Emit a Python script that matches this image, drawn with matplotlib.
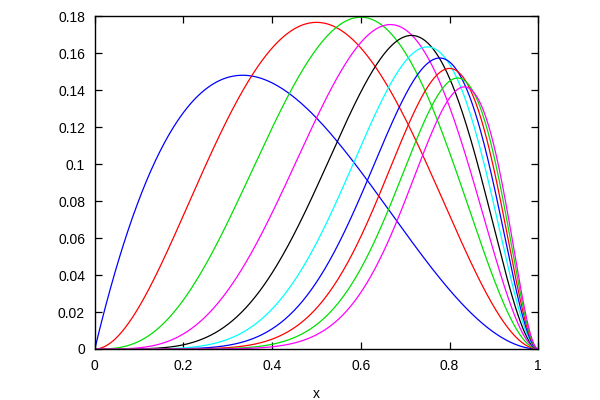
import numpy as np
import matplotlib
matplotlib.use("Agg")
import matplotlib.pyplot as plt

# curves are n^1.5 * x^n * (1-x)^2, n read from the peak positions n/(n+2)
exponents = [1, 2, 3, 4, 5, 6, 7, 8, 9, 10]
scales = [n ** 1.5 for n in exponents]
colors = ["#0000ff", "#ff0000", "#00e000", "#ff00ff", "#000000",
          "#00ffff", "#0000ff", "#ff0000", "#00e000", "#ff00ff"]
xticks = [0, 0.2, 0.4, 0.6, 0.8, 1]
yticks = [0, 0.02, 0.04, 0.06, 0.08, 0.1, 0.12, 0.14, 0.16, 0.18]

plt.rcParams['font.family'] = ['Liberation Sans', 'DejaVu Sans']

fig = plt.figure(figsize=(6, 4), dpi=100)
ax = fig.add_axes([0.158, 0.1275, 0.739, 0.8315])

x = np.linspace(0, 1, 500)
for n, c, col in zip(exponents, scales, colors):
    ax.plot(x, c * x ** n * (1 - x) ** 2, color=col, lw=0.9)

ax.set_xlim(0, 1)
ax.set_ylim(0, 0.18)
ax.set_xticks(xticks)
ax.set_xticklabels(["0", "0.2", "0.4", "0.6", "0.8", "1"])
ax.set_yticks(yticks)
ax.set_yticklabels(["0", "0.02", "0.04", "0.06", "0.08", "0.1", "0.12", "0.14", "0.16", "0.18"])
ax.tick_params(direction="in", length=5, width=0.9, top=True, right=True,
               labelsize=10, pad=7)
for s in ax.spines.values():
    s.set_linewidth(1)
ax.set_xlabel("x", fontsize=10, labelpad=10)

fig.savefig("out.png", dpi=100)
